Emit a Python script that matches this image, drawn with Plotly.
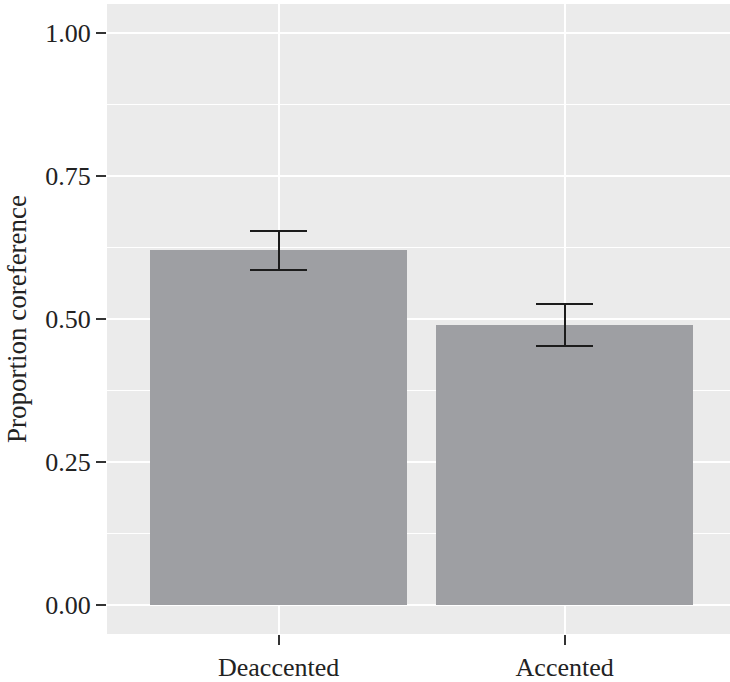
import plotly.graph_objects as go

categories = ["Deaccented", "Accented"]
means = [0.621, 0.490]
err_upper = [0.654, 0.526]
err_lower = [0.585, 0.453]

plus = [u - m for u, m in zip(err_upper, means)]
minus = [m - l for l, m in zip(err_lower, means)]

font_family = "Liberation Serif"

fig = go.Figure()
fig.add_trace(go.Bar(
    x=categories, y=means, width=0.9,
    marker=dict(color="#9e9fa3", line=dict(width=0)),
    error_y=dict(type="data", symmetric=False, array=plus, arrayminus=minus,
                 color="#1c1c1c", thickness=1.8, width=28.6),
))

fig.update_layout(
    width=730, height=682,
    margin=dict(l=107, r=0, t=4, b=48),
    paper_bgcolor="white", plot_bgcolor="#ebebeb",
    font=dict(family=font_family, size=26, color="#222222"),
    showlegend=False,
    bargap=0,
)
fig.update_xaxes(
    range=[-0.6, 1.578], showgrid=True, gridcolor="white", gridwidth=2,
    ticks="outside", ticklen=10, tickwidth=1.5, tickcolor="#333333",
    tickfont=dict(size=26, color="#222222"), zeroline=False, showline=False,
)
fig.update_yaxes(
    range=[-0.05, 1.05], tickvals=[0, 0.25, 0.5, 0.75, 1.0],
    ticktext=["0.00", "0.25", "0.50", "0.75", "1.00"],
    showgrid=True, gridcolor="white", gridwidth=2,
    minor=dict(tickvals=[0.125, 0.375, 0.625, 0.875], showgrid=True,
               gridcolor="white", gridwidth=1, ticks=""),
    ticks="outside", ticklen=10, tickwidth=1.5, tickcolor="#333333",
    tickfont=dict(size=26, color="#222222"), zeroline=False, showline=False,
    title=dict(text="Proportion coreference", font=dict(size=27, color="#222222"), standoff=10),
    automargin=False,
)

fig.write_html(
    "out.html",
    config={"displayModeBar": False},
    post_script=(
        "document.body.style.margin='0';document.body.style.padding='0';"
        "document.body.style.overflow='hidden';"
        "document.documentElement.style.overflow='hidden';"
    ),
)
